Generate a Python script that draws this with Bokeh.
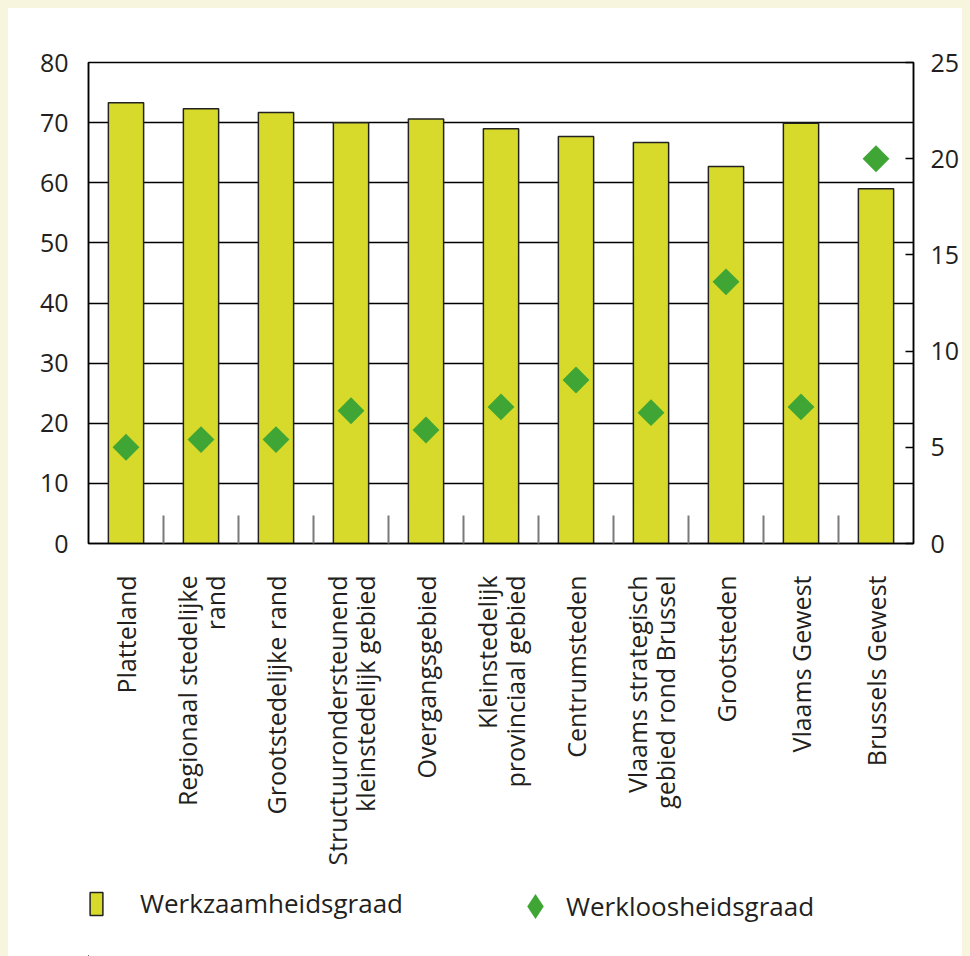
import math
from bokeh.plotting import figure
from bokeh.layouts import column
from bokeh.models import (Range1d, LinearAxis, FixedTicker, Legend, LegendItem,
                          ColumnDataSource, Grid)
from bokeh.embed import file_html
from bokeh.resources import INLINE

categories = [
    "Platteland",
    "Regionaal stedelijke\nrand",
    "Grootstedelijke rand",
    "Structuurondersteunend\nkleinstedelijk gebied",
    "Overgangsgebied",
    "Kleinstedelijk\nprovinciaal gebied",
    "Centrumsteden",
    "Vlaams strategisch\ngebied rond Brussel",
    "Grootsteden",
    "Vlaams Gewest",
    "Brussels Gewest",
]
werkzaamheidsgraad = [73.3, 72.3, 71.7, 70.0, 70.6, 69.0, 67.7, 66.7, 62.7, 69.9, 59.0]
werkloosheidsgraad = [5.0, 5.4, 5.4, 6.9, 5.9, 7.1, 8.5, 6.8, 13.6, 7.1, 20.0]
left_ticks = [0, 10, 20, 30, 40, 50, 60, 70, 80]
right_ticks = [0, 5, 10, 15, 20, 25]
series_names = ["Werkzaamheidsgraad", "Werkloosheidsgraad"]

FONT = "Open Sans"
TXT = "#231f20"
BAR = "#d7da2b"
BAR_LINE = "#222222"
GREEN = "#3fa535"
CREAM = "#f7f5de"
FS = "25px"

n = len(categories)
centers = [i + 0.5 for i in range(n)]
bounds = [float(i) for i in range(1, n)]

src = ColumnDataSource(dict(x=centers, w=werkzaamheidsgraad, u=werkloosheidsgraad))

p = figure(width=954, height=867, output_backend="svg", toolbar_location=None,
           x_range=Range1d(0, n), y_range=Range1d(0, 80),
           min_border_left=80, min_border_right=49, min_border_top=54,
           min_border_bottom=332, x_axis_type=None, y_axis_type=None)
p.extra_y_ranges = {"r": Range1d(0, 25)}
p.background_fill_color = "white"
p.border_fill_color = "white"
p.outline_line_color = "black"
p.outline_line_width = 1.5

g = Grid(dimension=1, ticker=FixedTicker(ticks=left_ticks))
g.grid_line_color = "black"
g.grid_line_width = 1.5
p.add_layout(g, "center")

bars = p.vbar(x="x", top="w", width=0.47, bottom=0, source=src,
              fill_color=BAR, line_color=BAR_LINE, line_width=1.5)
pts = p.scatter(x="x", y="u", source=src, y_range_name="r", marker="square",
                size=19, angle=math.pi / 4, fill_color=GREEN, line_color=None)

# left axis
la = LinearAxis(ticker=FixedTicker(ticks=left_ticks))
la.major_tick_out = 0
la.major_tick_in = 0
la.minor_tick_line_color = None
la.axis_line_color = "black"
la.axis_line_width = 1.5
la.major_label_standoff = 20
la.major_label_text_font = FONT
la.major_label_text_font_size = FS
la.major_label_text_color = TXT
p.add_layout(la, "left")

# right axis
ra = LinearAxis(y_range_name="r", ticker=FixedTicker(ticks=right_ticks))
ra.major_tick_out = 0
ra.major_tick_in = 8
ra.major_tick_line_color = "black"
ra.major_tick_line_width = 1.5
ra.minor_tick_line_color = None
ra.axis_line_color = "black"
ra.axis_line_width = 1.5
ra.major_label_standoff = 17
ra.major_label_text_font = FONT
ra.major_label_text_font_size = FS
ra.major_label_text_color = TXT
p.add_layout(ra, "right")

# bottom axis: labels at category centres, separator ticks between them
ba = LinearAxis(ticker=FixedTicker(ticks=centers, minor_ticks=bounds))
ba.major_tick_line_color = None
ba.minor_tick_in = 28
ba.minor_tick_out = 0
ba.minor_tick_line_color = "#7a7a7a"
ba.minor_tick_line_width = 2
ba.axis_line_color = "black"
ba.axis_line_width = 1.5
ba.major_label_orientation = math.pi / 2
ba.major_label_standoff = 26
ba.major_label_overrides = {c: lab for c, lab in zip(centers, categories)}
ba.major_label_text_font = FONT
ba.major_label_text_font_size = FS
ba.major_label_text_color = TXT
ba.major_label_text_line_height = 0.85
p.add_layout(ba, "below")

# legend strip (its frame is aligned with the main frame by the column layout)
lf = figure(width=954, height=81, output_backend="svg", toolbar_location=None,
            x_range=Range1d(30, 31), y_range=Range1d(300, 301),
            min_border_left=80, min_border_right=49, min_border_top=0,
            min_border_bottom=0, x_axis_type=None, y_axis_type=None)
lf.grid.visible = False
lf.outline_line_color = None
lf.background_fill_color = "white"
lf.border_fill_color = "white"
# same data, outside this strip's ranges: only their legend glyphs show
lbar = lf.vbar(x="x", top="w", width=0.47, source=src,
               fill_color=BAR, line_color=BAR_LINE, line_width=1.5)
lpt = lf.scatter(x="x", y="u", source=src, marker="diamond",
                 size=19, fill_color=GREEN, line_color=None)

common = dict(padding=0, margin=0, border_line_color=None, background_fill_alpha=0,
              label_text_font=FONT, label_text_font_size="26px", label_text_color=TXT)
leg1 = Legend(items=[LegendItem(label=series_names[0], renderers=[lbar], index=0)],
              location=(0, 35), glyph_width=16, glyph_height=29,
              label_standoff=36, **common)
leg2 = Legend(items=[LegendItem(label=series_names[1], renderers=[lpt], index=0)],
              location=(416, 19), glyph_width=62, glyph_height=62,
              label_standoff=0, **common)
lf.add_layout(leg1, "center")
lf.add_layout(leg2, "center")

layout = column(p, lf, spacing=0)
layout.styles = {"background-color": "white"}

TEMPLATE = ("{% block postamble %}<style>html, body { background: " + CREAM +
            "; } body { padding: 8px 0 0 8px; }</style>{% endblock %}")

try:
    html = file_html(layout, INLINE, template=TEMPLATE)
except Exception:
    p.width, p.height = 962, 875
    p.min_border_left, p.min_border_top = 88, 62
    lf.width, lf.min_border_left = 962, 88
    html = file_html(layout, INLINE)
open("out.html", "w").write(html)
